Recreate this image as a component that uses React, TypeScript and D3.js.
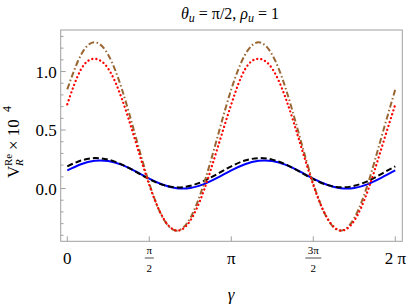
import React, { useEffect, useRef } from "react";
import * as d3 from "d3";

// gamma samples: k*pi/12, k = 0..24
const gammaSteps = d3.range(25);
const brownDashDot = [0.848, 1.142, 1.25, 1.142, 0.848, 0.445, 0.043, -0.252, -0.36, -0.252, 0.043, 0.445, 0.848, 1.142, 1.25, 1.142, 0.848, 0.445, 0.043, -0.252, -0.36, -0.252, 0.043, 0.445, 0.848];
const redDotted = [0.72, 1.018, 1.109, 1.024, 0.765, 0.401, 0.03, -0.248, -0.359, -0.274, -0.015, 0.349, 0.72, 1.018, 1.109, 1.024, 0.765, 0.401, 0.03, -0.248, -0.359, -0.274, -0.015, 0.349, 0.72];
const blackDashed = [0.19, 0.239, 0.26, 0.247, 0.205, 0.144, 0.08, 0.031, 0.01, 0.023, 0.065, 0.126, 0.19, 0.239, 0.26, 0.247, 0.205, 0.144, 0.08, 0.031, 0.01, 0.023, 0.065, 0.126, 0.19];
const blueSolid = [0.155, 0.208, 0.237, 0.235, 0.202, 0.147, 0.085, 0.032, 0.003, 0.005, 0.038, 0.093, 0.155, 0.208, 0.237, 0.235, 0.202, 0.147, 0.085, 0.032, 0.003, 0.005, 0.038, 0.093, 0.155];

const yMajorTicks = [0.0, 0.5, 1.0];
const yTickLabels = ["0.0", "0.5", "1.0"];
const xTicks = [0, Math.PI / 2, Math.PI, (3 * Math.PI) / 2, 2 * Math.PI];

const FONT = "Liberation Serif";

export default function App() {
  const ref = useRef<SVGSVGElement | null>(null);

  useEffect(() => {
    const svg = d3.select(ref.current);
    svg.selectAll("*").remove();
    const L = 60.7, R = 402.3, T = 30, B = 241.3;
    const x = d3.scaleLinear().domain([-0.126, 2 * Math.PI + 0.134]).range([L, R]);
    const y = d3.scaleLinear().domain([-0.451, 1.355]).range([B, T]);
    const gam = gammaSteps.map((k) => (k * Math.PI) / 12);
    const line = d3.line<number>().x((_, i) => x(gam[i])).y((v) => y(v)).curve(d3.curveNatural);
    const axisColor = "#a0a0a0";

    const txt = (g: any, xx: number, yy: number, s: string, size: number, anchor = "start", italic = false) =>
      g.append("text")
        .attr("x", xx).attr("y", yy)
        .attr("font-size", size)
        .attr("text-anchor", anchor)
        .style("font-family", `"${FONT}"`)
        .style("font-style", italic ? "italic" : "normal")
        .attr("fill", "#000")
        .text(s);

    svg.append("defs").append("clipPath").attr("id", "pc")
      .append("rect").attr("x", L).attr("y", T).attr("width", R - L).attr("height", B - T);

    // title
    const title = svg.append("text").attr("x", 230).attr("y", 19).attr("font-size", 16)
      .attr("text-anchor", "middle").style("font-family", `"${FONT}"`);
    title.append("tspan").style("font-style", "italic").text("θ");
    title.append("tspan").style("font-style", "italic").attr("font-size", 12).attr("dy", 3).text("u");
    title.append("tspan").attr("dy", -3).text(" = π/2, ");
    title.append("tspan").style("font-style", "italic").text("ρ");
    title.append("tspan").style("font-style", "italic").attr("font-size", 12).attr("dy", 3).text("u");
    title.append("tspan").attr("dy", -3).text(" = 1");

    // frame
    svg.append("rect").attr("x", L).attr("y", T).attr("width", R - L).attr("height", B - T)
      .attr("fill", "none").attr("stroke", axisColor);

    // y ticks
    const yAll = d3.range(-4, 14).map((i) => i / 10);
    yAll.forEach((v) => {
      const major = yMajorTicks.some((m) => Math.abs(m - v) < 1e-6);
      svg.append("line").attr("x1", L).attr("x2", L + (major ? 5 : 2.8))
        .attr("y1", y(v)).attr("y2", y(v)).attr("stroke", axisColor);
    });
    yMajorTicks.forEach((v, i) => txt(svg, L - 4, y(v) + 6, yTickLabels[i], 17, "end"));

    // x ticks
    xTicks.forEach((v) => {
      svg.append("line").attr("x1", x(v)).attr("x2", x(v)).attr("y1", B).attr("y2", B - 5).attr("stroke", axisColor);
    });
    txt(svg, x(0), 264, "0", 17, "middle");
    txt(svg, x(Math.PI), 264, "π", 17, "middle");
    txt(svg, x(2 * Math.PI), 264, "2 π", 17, "middle");
    [[Math.PI / 2, "π", 4.5], [(3 * Math.PI) / 2, "3π", 8]].forEach(([v, s, hw]: any) => {
      const cx = x(v);
      txt(svg, cx, 254, s, 11, "middle");
      svg.append("line").attr("x1", cx - hw).attr("x2", cx + hw).attr("y1", 258).attr("y2", 258)
        .attr("stroke", "#000").attr("stroke-width", 0.7);
      txt(svg, cx, 272, "2", 11, "middle");
    });

    // x label
    txt(svg, 231, 300, "γ", 17, "middle", true);

    // y label
    const gy = svg.append("g").attr("transform", "translate(19,136) rotate(-90)");
    txt(gy, -42, 0, "V", 17);
    txt(gy, -30, -7, "Re", 11);
    txt(gy, -30, 4, "R", 11, "start", true);
    txt(gy, -14, 0, "× 10", 17);
    txt(gy, 24, -8, "4", 12);

    // curves
    const gc = svg.append("g").attr("clip-path", "url(#pc)").attr("fill", "none").attr("stroke-width", 2);
    gc.append("path").attr("d", line(blueSolid)).attr("stroke", "#0000ff");
    gc.append("path").attr("d", line(blackDashed)).attr("stroke", "#000").attr("stroke-dasharray", "6 3");
    gc.append("path").attr("d", line(brownDashDot)).attr("stroke", "#996633").attr("stroke-dasharray", "6 2.5 1.5 2.5");
    gc.append("path").attr("d", line(redDotted)).attr("stroke", "#ff0000").attr("stroke-dasharray", "0.1 4")
      .attr("stroke-linecap", "round").attr("stroke-width", 2.3);
  }, []);

  return (
    <svg ref={ref} width={409} height={308}
      style={{ position: "absolute", left: 0, top: 0, background: "#fff" }} />
  );
}
